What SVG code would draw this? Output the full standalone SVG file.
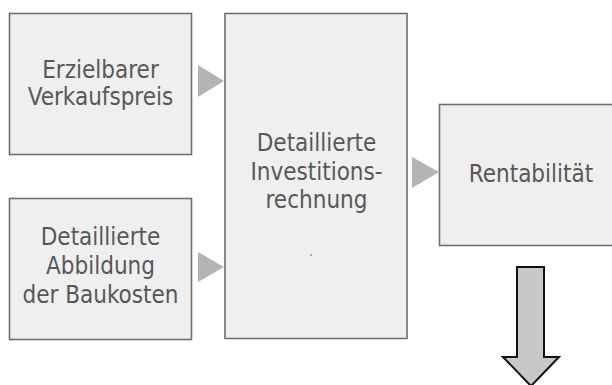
<svg xmlns="http://www.w3.org/2000/svg" width="612" height="385" viewBox="0 0 612 385">
  <style>
    .box { fill: #efefef; stroke: #6f6f6f; stroke-width: 1.6; }
    .lbl { font-family: "DejaVu Sans Condensed", "DejaVu Sans", "Liberation Sans", sans-serif; font-stretch: condensed; font-size: 24px; fill: #585858; text-anchor: middle; }
    .tri { fill: #b4b4b4; }
    .down { fill: #c8c8c8; stroke: #111; stroke-width: 2; stroke-linejoin: miter; }
  </style>
  <rect width="612" height="385" fill="#ffffff"/>
  <g id="node-verkaufspreis">
    <rect class="box" x="9.5" y="13.5" width="182" height="141"/>
    <text class="lbl" x="100.5" y="78">Erzielbarer</text>
    <text class="lbl" x="100.5" y="105">Verkaufspreis</text>
  </g>
  <g id="node-baukosten">
    <rect class="box" x="9.5" y="198.5" width="182" height="141"/>
    <text class="lbl" x="100.5" y="245">Detaillierte</text>
    <text class="lbl" x="100.5" y="274">Abbildung</text>
    <text class="lbl" x="100.5" y="303">der Baukosten</text>
  </g>
  <g id="node-investition">
    <rect class="box" x="225" y="13.5" width="182" height="325"/>
    <text class="lbl" x="316.5" y="151">Detaillierte</text>
    <text class="lbl" x="316.5" y="180">Investitions-</text>
    <text class="lbl" x="316.5" y="208">rechnung</text>
    <circle cx="311" cy="255" r="0.8" fill="#555"/>
  </g>
  <g id="node-rentabilitaet">
    <rect class="box" x="439.5" y="104.5" width="184" height="141"/>
    <text class="lbl" x="531" y="182">Rentabilität</text>
  </g>
  <g id="connectors">
    <polygon class="tri" points="198,65 224,81 198,97"/>
    <polygon class="tri" points="198,252 224,267 198,282"/>
    <polygon class="tri" points="412,157 439,172 412,188"/>
    <polygon class="down" points="517,267 544,267 544,357 559,357 531,386 503,357 517,357"/>
  </g>
</svg>
